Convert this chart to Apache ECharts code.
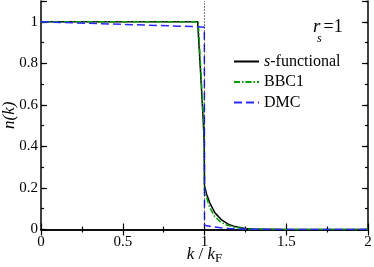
<!DOCTYPE html>
<html><head><meta charset="utf-8">
<script src="https://cdn.jsdelivr.net/npm/echarts@6/dist/echarts.min.js"></script>
<style>html,body{margin:0;padding:0;background:#fff}#c{width:374px;height:267px}</style>
</head><body><div id="c"></div>
<script>
// ---- data ----
const kS = [0, 0.958, 0.975, 0.992, 0.998, 1.0, 1.005, 1.013, 1.033, 1.064, 1.105, 1.145, 1.186, 1.247, 1.3, 1.5, 2.0];
const nS = [1, 1, 0.77, 0.527, 0.42, 0.21, 0.195, 0.17, 0.127, 0.08, 0.046, 0.026, 0.014, 0.005, 0.002, 0.0005, 0];
const kB = [0, 0.962, 0.978, 0.994, 0.999, 1.0, 1.01, 1.03, 1.06, 1.1, 1.14, 1.19, 1.25, 1.3, 1.5, 2.0];
const nB = [1, 1, 0.76, 0.53, 0.44, 0.19, 0.16, 0.11, 0.065, 0.035, 0.02, 0.01, 0.003, 0.001, 0, 0];
const kD = [0, 0.96, 0.999, 1.0, 1.05, 1.1, 1.15, 1.2, 1.3, 1.5, 2.0];
const nD = [1, 0.976, 0.974, 0.02, 0.013, 0.008, 0.005, 0.003, 0.001, 0, 0];
const seriesNames = ['s-functional', 'BBC1', 'DMC'];
const xTicks = [0, 0.5, 1, 1.5, 2];
const yTicks = [0, 0.2, 0.4, 0.6, 0.8, 1];

const zip = (a, b) => a.map((v, i) => [v, b[i]]);
const FF = 'Liberation Serif';
const chart = echarts.init(document.getElementById('c'), null, {renderer: 'canvas'});

const axLine = {show: true, lineStyle: {color: '#000', width: 1.5}};
function xAx(pos, labels) {
  return {
    type: 'value', position: pos, min: 0, max: 2, interval: 0.5,
    axisLine: axLine,
    axisTick: {show: true, inside: true, length: 6, lineStyle: {color: '#000', width: 1.2}},
    minorTick: {show: true, splitNumber: 2, length: 3, lineStyle: {color: '#000', width: 1.2}},
    splitLine: {show: false}, minorSplitLine: {show: false},
    axisLabel: {show: labels, color: '#000', fontFamily: FF, fontSize: 15, margin: 5,
      formatter: v => xTicks.includes(v) ? String(v) : ''}
  };
}
function yAx(pos, major, labels) {
  return {
    type: 'value', position: pos, min: 0, max: 1.1, interval: major ? 0.2 : 0.1,
    axisLine: major ? axLine : {show: false},
    axisTick: {show: true, inside: true, length: major ? 6 : 3, lineStyle: {color: '#000', width: 1.2}},
    splitLine: {show: false},
    axisLabel: {show: labels, color: '#000', fontFamily: FF, fontSize: 15, margin: 3,
      formatter: v => yTicks.some(t => Math.abs(t - v) < 1e-9) ? String(+v.toFixed(1)) : ''}
  };
}
const xBottom = xAx('bottom', true);
xBottom.name = '{i|k} / {i|k}{sub|F}';
xBottom.nameLocation = 'middle';
xBottom.nameGap = 14;
xBottom.nameMoveOverlap = false;
xBottom.nameTextStyle = {color: '#000', fontFamily: FF, fontSize: 17, lineHeight: 22,
  rich: {i: {fontStyle: 'italic', fontFamily: FF, fontSize: 17, lineHeight: 22, verticalAlign: 'middle'},
         sub: {fontFamily: FF, fontSize: 13, lineHeight: 22, verticalAlign: 'bottom'}}};
const yLeft = yAx('left', true, true);
yLeft.name = 'n(k)';
yLeft.nameLocation = 'middle';
yLeft.nameGap = 23;
yLeft.nameMoveOverlap = false;
yLeft.nameTextStyle = {color: '#000', fontFamily: FF, fontSize: 17, fontStyle: 'italic'};

const lineSeries = (name, data, color, type) => ({
  name, type: 'line', data, xAxisIndex: 0, yAxisIndex: 0, symbol: 'none', smooth: false,
  lineStyle: {color, width: 1.5, type}, itemStyle: {color}, animation: false
});

const s0 = lineSeries(seriesNames[0], zip(kS, nS), '#000', 'solid');
s0.markLine = {silent: true, symbol: 'none', label: {show: false},
  lineStyle: {color: '#000', type: [1, 2], width: 1}, data: [{xAxis: 1}], animation: false};

chart.setOption({
  animation: false,
  grid: {left: 41, right: 6, top: 1, bottom: 37.5, containLabel: false, outerBoundsMode: 'none'},
  xAxis: [xBottom, xAx('top', false)],
  yAxis: [yLeft, yAx('left', false, false), yAx('right', true, false), yAx('right', false, false)],
  legend: {
    data: seriesNames, orient: 'vertical', left: 233, top: 51.5, padding: 0,
    itemWidth: 25, itemHeight: 14, itemGap: 0.5,
    itemStyle: {color: 'rgba(0,0,0,0)', borderColor: 'rgba(0,0,0,0)', borderWidth: 0},
    formatter: n => n === 's-functional' ? '{i|s}-functional' : n,
    textStyle: {color: '#000', fontFamily: FF, fontSize: 16, lineHeight: 20,
      rich: {i: {fontStyle: 'italic', fontFamily: FF, fontSize: 16, lineHeight: 20}}}
  },
  graphic: [
    {type: 'text', x: 313, y: 27, style: {text: 'r', font: 'italic 19px Liberation Serif', fill: '#000', verticalAlign: 'middle'}},
    {type: 'text', x: 317, y: 38.5, style: {text: 's', font: 'italic 12px Liberation Serif', fill: '#000', verticalAlign: 'middle'}},
    {type: 'text', x: 323.5, y: 27, style: {text: '=1', font: '18px Liberation Serif', fill: '#000', verticalAlign: 'middle'}}
  ],
  series: [
    s0,
    lineSeries(seriesNames[1], zip(kB, nB), '#00a000', [6, 2, 1.5, 2]),
    lineSeries(seriesNames[2], zip(kD, nD), '#2a2aff', [8, 4])
  ]
});
</script></body></html>
